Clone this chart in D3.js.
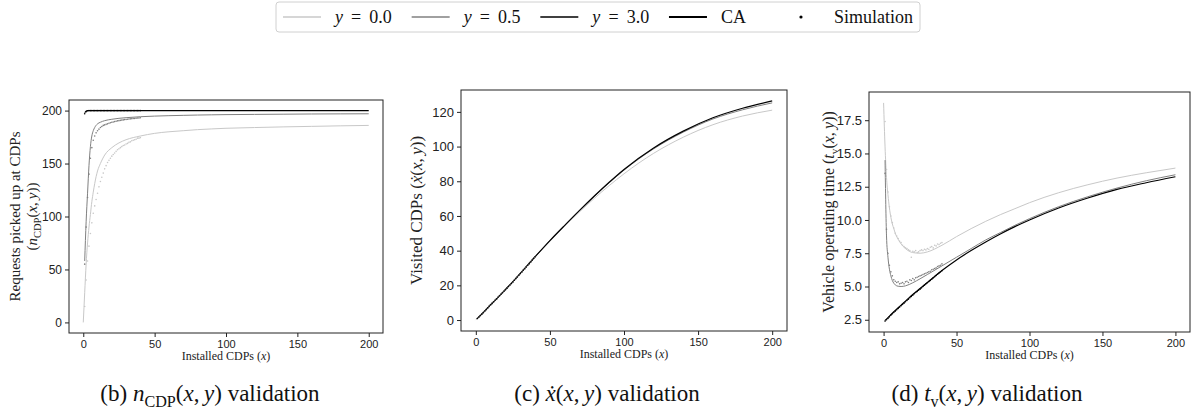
<!DOCTYPE html>
<html><head><meta charset="utf-8">
<script src="https://cdn.jsdelivr.net/npm/d3@7.9.0/dist/d3.min.js"></script>
<style>
body{margin:0;background:#fff;}
svg{display:block;font-family:"Liberation Serif","DejaVu Serif",serif;}
text{white-space:pre;}
</style></head><body>
<svg id="fig" width="1196" height="416"></svg>
<script>
// x grid of the CA curves (null where a curve has no value)
const caX = [0,1,2,3,4,5,6,7,8,10,12,15,20,25,30,40,50,60,70,80,90,100,120,140,160,180,200];
// simulation runs, installed CDPs 1..40
const simX = [1,2,3,4,5,6,7,8,9,10,11,12,13,14,15,16,17,18,19,20,21,22,23,24,25,26,27,28,29,30,31,32,33,34,35,36,37,38,39,40];

// (b) requests picked up at CDPs
const nY0  = [0,28,55,75,90,102,114,123,131,143,150,158,165,169.5,172.5,176,178.5,180,181,182,182.7,183.3,184,184.6,185.1,185.6,186];
const nY05 = [null,58,95,122,148,166,176,181,184,187.5,189,190.5,191.8,192.7,193.3,194.2,194.8,195.2,195.5,195.8,196,196.2,196.4,196.6,196.8,196.9,197];
const nY3  = [null,198,199.5,200,200,200,200,200,200,200,200,200,200,200,200,200,200,200,200,200,200,200,200,200,200,200,200];
const nSim0  = [15,40,58,72,84,94,103,110,116,122,128,133,137,141,145,148,151,153,155,157,158.5,160,161.5,163,164,165,166,167,167.5,168.5,169,170,170.5,171.5,172,172.5,173,174,174,174.5];
const nSim05 = [55,90,118,140,155,165,172,176,179,181,182.5,184,185,186,186.5,187,187.5,188,188.5,189,189.2,189.6,190,190.3,190.5,190.8,191,191.2,191.5,191.6,191.8,192,192.2,192.4,192.5,192.6,192.8,193,193,193.2];
const nSim3  = [197,199,199.8,200,200,200,200,200,200,200,200,200,200,200,200,200,200,200,200,200,200,200,200,200,200,200,200,200,200,200,200,200,200,200,200,200,200,200,200,200];

// (c) visited CDPs
const vY0  = [0,0.9,1.7,2.6,3.4,4.3,5.2,6.1,7.0,8.8,10.5,13.1,17.6,22.2,26.8,36.3,45.4,54.1,62.4,70.2,77.5,84.3,96.1,105.4,112.6,117.6,121];
const vY05 = [null,0.9,1.7,2.6,3.4,4.3,5.2,6.1,7.0,8.8,10.5,13.1,17.6,22.2,26.9,36.5,45.8,54.6,63.1,71.3,79.1,86.4,98.7,108.3,115.9,121.2,125.2];
const vY3  = [null,0.9,1.7,2.6,3.4,4.3,5.2,6.1,7.0,8.8,10.5,13.1,17.6,22.2,26.9,36.5,45.8,54.6,63.2,71.5,79.4,86.8,99.2,108.9,116.6,122.1,126.3];
const vSim0  = [0.9,1.7,2.6,3.4,4.3,5.2,6.1,7.0,7.9,8.8,9.6,10.5,11.4,12.2,13.1,14.0,14.9,15.7,16.6,17.5,18.4,19.3,20.2,21.1,22.0,22.9,23.8,24.7,25.7,26.6,27.5,28.5,29.4,30.4,31.4,32.3,33.3,34.3,35.3,36.2];
const vSim05 = [0.9,1.7,2.6,3.4,4.3,5.2,6.1,7.0,7.9,8.8,9.6,10.5,11.4,12.2,13.1,14.0,14.9,15.7,16.6,17.5,18.4,19.3,20.2,21.1,22.0,22.9,23.9,24.8,25.8,26.8,27.7,28.7,29.6,30.6,31.6,32.5,33.5,34.5,35.5,36.5];
const vSim3  = [0.9,1.7,2.6,3.4,4.3,5.2,6.1,7.0,7.9,8.8,9.6,10.5,11.4,12.2,13.1,14.0,14.9,15.7,16.6,17.5,18.4,19.3,20.2,21.1,22.0,22.9,23.9,24.8,25.8,26.8,27.7,28.7,29.6,30.6,31.6,32.5,33.5,34.5,35.5,36.5];

// (d) vehicle operating time
const tY0  = [18.8,15.5,13.2,11.9,10.9,10.2,9.7,9.35,9.0,8.55,8.2,7.85,7.55,7.5,7.6,8.1,8.75,9.35,9.9,10.4,10.85,11.3,12.05,12.65,13.15,13.55,13.9];
const tY05 = [null,14.5,8.8,7.2,6.3,5.8,5.45,5.25,5.12,5.02,5.0,5.05,5.28,5.58,5.9,6.55,7.2,7.85,8.5,9.05,9.6,10.1,11.0,11.75,12.4,12.95,13.4];
const tY3  = [null,2.45,2.55,2.66,2.77,2.88,2.99,3.1,3.2,3.4,3.6,3.9,4.4,4.85,5.3,6.2,7.0,7.7,8.35,8.95,9.5,10.0,10.9,11.65,12.3,12.8,13.25];
const tSim0  = [17.4,13.8,12.1,11.0,10.3,9.8,9.4,9.0,8.8,8.6,8.4,8.3,8.1,8.0,7.9,7.85,7.75,7.7,7.2,7.65,7.6,7.7,7.55,7.6,7.7,7.75,7.7,7.8,7.75,7.85,7.8,7.95,8.0,7.9,8.1,8.05,8.2,8.15,8.25,8.3];
const tSim05 = [13.5,9.3,7.5,6.6,6.1,5.8,5.5,5.4,5.3,5.35,5.2,5.25,5.3,5.2,5.35,5.4,5.3,5.5,5.45,5.6,5.5,5.65,5.7,5.75,5.8,5.85,5.9,5.95,6.0,6.05,6.1,6.15,6.25,6.3,6.35,6.4,6.5,6.55,6.6,6.7];
const tSim3  = [2.4,2.5,2.6,2.72,2.85,2.95,3.05,3.15,3.25,3.35,3.45,3.55,3.65,3.75,3.85,3.95,4.05,4.15,4.25,4.35,4.45,4.55,4.62,4.72,4.8,4.9,5.0,5.1,5.2,5.28,5.37,5.46,5.55,5.65,5.74,5.83,5.92,6.01,6.1,6.18];

const xTicks = [0,50,100,150,200];
const nTicks = [0,50,100,150,200];
const vTicks = [0,20,40,60,80,100,120];
const tTicks = [2.5,5,7.5,10,12.5,15,17.5];
const yLevels = ['0.0','0.5','3.0'];
const colors = ['#c8c8c8','#808080','#000000'];

const svg = d3.select('#fig');

// write text with italic / subscript pieces; gap = extra space (em) before the piece
function rich(text, parts, size) {
  let shifted = 0;
  parts.forEach(p => {
    const ts = text.append('tspan').text(p.t);
    if (p.i) ts.attr('font-style', 'italic');
    const want = p.sub ? size * 0.28 : 0;
    if (want !== shifted) { ts.attr('dy', want - shifted); shifted = want; }
    if (p.sub) ts.attr('font-size', size * 0.7);
    if (p.gap) ts.attr('dx', p.gap * size);
  });
  return text;
}
const argXY = [{t:'('},{t:'x',i:1},{t:','},{t:'y',i:1,gap:0.2},{t:')'}];
const nMath = [{t:'n',i:1},{t:'CDP',sub:1}].concat(argXY);
const vMath = [{t:'ẋ',i:1}].concat(argXY);
const tMath = [{t:'t',i:1},{t:'v',sub:1}].concat(argXY);

const panels = [
  {box:[69,383,100,333], ca:[nY0,nY05,nY3], sim:[nSim0,nSim05,nSim3], ticks:nTicks, fmt:d3.format('d'), fs:12, lfs:15,
   ylab:[[{t:'Requests picked up at CDPs'}], [{t:'('}].concat(nMath,[{t:')'}])], ylabX:[15,32],
   cap:[{t:'(b) '}].concat(nMath,[{t:' validation'}]), capX:210},
  {box:[461,787,90,331], ca:[vY0,vY05,vY3], sim:[vSim0,vSim05,vSim3], ticks:vTicks, fmt:d3.format('d'), fs:13, lfs:17,
   ylab:[[{t:'Visited CDPs ('}].concat(vMath,[{t:')'}])], ylabX:[416],
   cap:[{t:'(c) '}].concat(vMath,[{t:' validation'}]), capX:607},
  {box:[869,1190,92,332], ca:[tY0,tY05,tY3], sim:[tSim0,tSim05,tSim3], ticks:tTicks, fmt:d3.format('.1f'), fs:13, lfs:16,
   ylab:[[{t:'Vehicle operating time ('}].concat(tMath,[{t:')'}])], ylabX:[828],
   cap:[{t:'(d) '}].concat(tMath,[{t:' validation'}]), capX:987}
];

panels.forEach(p => {
  const [L, R, T, B] = p.box;
  const xe = d3.extent(caX);
  const xm = (xe[1] - xe[0]) * 0.05;
  const x = d3.scaleLinear().domain([xe[0] - xm, xe[1] + xm]).range([L, R]);
  const all = p.ca.flat().concat(p.sim.flat()).filter(v => v != null);
  const ye = d3.extent(all);
  const ym = (ye[1] - ye[0]) * 0.05;
  const y = d3.scaleLinear().domain([ye[0] - ym, ye[1] + ym]).range([B, T]);
  const g = svg.append('g');

  const clip = 'clip' + L;
  g.append('clipPath').attr('id', clip).append('rect')
    .attr('x', L).attr('y', T).attr('width', R - L).attr('height', B - T);
  const plot = g.append('g').attr('clip-path', `url(#${clip})`);

  const line = d3.line()
    .defined(d => d[1] != null)
    .x(d => x(d[0])).y(d => y(d[1]))
    .curve(d3.curveMonotoneX);
  p.ca.forEach((vals, k) => {
    plot.append('path')
      .attr('d', line(caX.map((cx, i) => [cx, vals[i]])))
      .attr('fill', 'none')
      .attr('stroke', colors[k])
      .attr('stroke-width', k === 2 ? 1.2 : 1);
  });
  p.sim.forEach((vals, k) => {
    plot.selectAll(null).data(simX.map((sx, i) => [sx, vals[i]])).enter()
      .append('circle')
      .attr('cx', d => x(d[0])).attr('cy', d => y(d[1]))
      .attr('r', 0.8)
      .attr('fill', colors[k]);
  });

  // frame
  g.append('rect').attr('x', L).attr('y', T).attr('width', R - L).attr('height', B - T)
    .attr('fill', 'none').attr('stroke', '#222').attr('stroke-width', 1);

  const xa = g.append('g').attr('transform', `translate(0,${B})`)
    .call(d3.axisBottom(x).tickValues(xTicks).tickSize(4).tickPadding(3).tickSizeOuter(0));
  const ya = g.append('g').attr('transform', `translate(${L},0)`)
    .call(d3.axisLeft(y).tickValues(p.ticks).tickFormat(p.fmt).tickSize(4).tickPadding(3).tickSizeOuter(0));
  [xa, ya].forEach(a => {
    a.select('.domain').remove();
    a.selectAll('line').attr('stroke', '#222');
    a.selectAll('text').attr('font-family', null).attr('fill', '#222');
  });
  xa.selectAll('text').attr('font-size', 11);
  ya.selectAll('text').attr('font-size', p.fs);

  rich(g.append('text').attr('x', (L + R) / 2).attr('y', B + 27)
    .attr('text-anchor', 'middle').attr('font-size', 12).attr('fill', '#222'),
    [{t:'Installed CDPs ('},{t:'x',i:1},{t:')'}], 12);

  p.ylab.forEach((parts, j) => {
    rich(g.append('text')
      .attr('transform', `translate(${p.ylabX[j]},${(T + B) / 2}) rotate(-90)`)
      .attr('text-anchor', 'middle').attr('dy', '0.35em')
      .attr('font-size', p.lfs).attr('fill', '#222'), parts, p.lfs);
  });

  rich(g.append('text').attr('x', p.capX).attr('y', 401)
    .attr('text-anchor', 'middle').attr('font-size', 23).attr('fill', '#111'), p.cap, 23);
});

// legend across the top
const leg = svg.append('g');
const entries = yLevels.map((v, k) => ({parts:[{t:'y',i:1},{t:'=',gap:0.45},{t:v,gap:0.45}], color:colors[k], line:true}))
  .concat([{parts:[{t:'CA'}], color:'#000', line:true}, {parts:[{t:'Simulation'}], color:'#000', line:false}]);
const legFs = 18, handle = 38, pad = 14, gap = 36;
let cx = 0;
entries.forEach(e => {
  const it = leg.append('g').attr('transform', `translate(${cx},0)`);
  if (e.line) {
    it.append('line').attr('x1', 0).attr('x2', handle).attr('y1', 17).attr('y2', 17)
      .attr('stroke', e.color).attr('stroke-width', e.color === '#000' ? 2 : 1.5);
  } else {
    it.append('circle').attr('cx', handle / 2).attr('cy', 17).attr('r', 1.6).attr('fill', '#000');
  }
  const t = rich(it.append('text').attr('x', handle + pad).attr('y', 23)
    .attr('font-size', legFs).attr('fill', '#111'), e.parts, legFs);
  cx += handle + pad + t.node().getComputedTextLength() + gap;
});
const legW = cx - gap + 14;
const legX = 598 - legW / 2;
leg.insert('rect', ':first-child').attr('x', -7).attr('y', 2).attr('width', legW).attr('height', 30)
  .attr('rx', 3).attr('fill', '#fff').attr('stroke', '#d0d0d0');
leg.attr('transform', `translate(${legX + 7},0)`);
</script>
</body></html>
